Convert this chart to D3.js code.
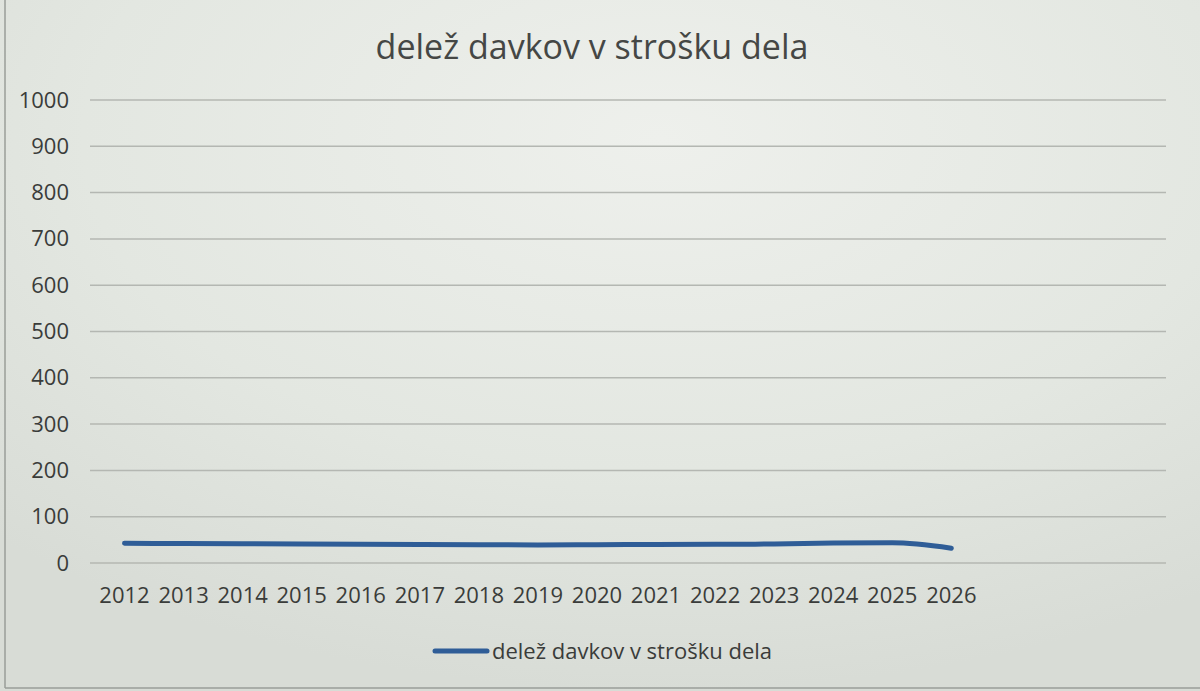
<!DOCTYPE html>
<html lang="sl">
<head>
    <meta charset="UTF-8">
    <title>delež davkov v strošku dela</title>
    <script src="https://d3js.org/d3.v7.min.js"></script>
    <style>
        body { margin: 0; background: #e4e7e2; }
        svg { display: block; font-family: "Open Sans", sans-serif; }
    </style>
</head>
<body>
    <svg width="1200" height="691"></svg>
    <script>
        const years = [2012, 2013, 2014, 2015, 2016, 2017, 2018, 2019, 2020, 2021, 2022, 2023, 2024, 2025, 2026];
        const values = [42.5, 42, 41.5, 41, 40.5, 40, 39.5, 39, 39.5, 40, 40.5, 41, 43, 43.5, 32];
        const yTicks = [0, 100, 200, 300, 400, 500, 600, 700, 800, 900, 1000];
        const blankSlots = ['b1', 'b2', 'b3'];  // empty categories at the end of the axis
        const title = 'delež davkov v strošku dela';

        const svg = d3.select('svg');
        const [width, height] = [+svg.attr('width'), +svg.attr('height')];

        // photo-like background
        const defs = svg.append('defs');
        const grad = defs.append('radialGradient').attr('id', 'bg')
            .attr('cx', '55%').attr('cy', '20%').attr('r', '80%');
        grad.append('stop').attr('offset', '0%').attr('stop-color', '#eef0ec');
        grad.append('stop').attr('offset', '60%').attr('stop-color', '#e3e7e1');
        grad.append('stop').attr('offset', '100%').attr('stop-color', '#d8dcd6');
        svg.append('rect').attr('width', width).attr('height', height).attr('fill', 'url(#bg)');
        svg.append('line').attr('x1', 5).attr('x2', 5).attr('y1', 0).attr('y2', 688)
            .attr('stroke', '#9a9e99').attr('stroke-width', 1.5);
        svg.append('line').attr('x1', 5).attr('x2', width).attr('y1', 688).attr('y2', 688)
            .attr('stroke', '#9a9e99').attr('stroke-width', 1.5);

        const xScale = d3.scaleBand()
            .domain(years.map(String).concat(blankSlots))
            .range([95, 1158]);
        const xc = d => xScale(String(d)) + xScale.bandwidth() / 2;

        const yScale = d3.scaleLinear().domain([0, 1000]).range([563, 100]);

        // gridlines
        svg.append('g')
            .selectAll('line')
            .data(yTicks)
            .join('line')
            .attr('x1', 90).attr('x2', 1166)
            .attr('y1', d => yScale(d)).attr('y2', d => yScale(d))
            .attr('stroke', '#b4b7b2').attr('stroke-width', 1.5);

        // y axis labels
        const yAxis = svg.append('g')
            .attr('transform', 'translate(69,0)')
            .call(d3.axisLeft(yScale).tickValues(yTicks).tickFormat(d3.format('d'))
                .tickSize(0).tickPadding(0));
        yAxis.select('.domain').remove();
        yAxis.selectAll('text').attr('font-size', 22).attr('fill', '#3a3c3a')
            .attr('font-family', '"Open Sans", sans-serif');

        // x axis labels
        const xAxis = svg.append('g')
            .attr('transform', 'translate(0,587)')
            .call(d3.axisBottom(xScale).tickSize(0).tickPadding(0)
                .tickFormat(d => blankSlots.includes(d) ? '' : d));
        xAxis.select('.domain').remove();
        xAxis.selectAll('text').attr('font-size', 22).attr('fill', '#3a3c3a')
            .attr('font-family', '"Open Sans", sans-serif');

        // series line
        const line = d3.line()
            .x((d, i) => xc(years[i]))
            .y(d => yScale(d))
            .curve(d3.curveMonotoneX);
        svg.append('path')
            .attr('d', line(values))
            .attr('fill', 'none')
            .attr('stroke', '#2f5d97')
            .attr('stroke-width', 5)
            .attr('stroke-linecap', 'round');

        // title
        svg.append('text')
            .attr('x', 592).attr('y', 59)
            .attr('text-anchor', 'middle')
            .attr('font-size', 34)
            .attr('fill', '#454745')
            .text(title);

        // legend
        const legend = svg.append('g').attr('transform', 'translate(433,651)');
        legend.append('line').attr('x1', 2).attr('x2', 54)
            .attr('stroke', '#2f5d97').attr('stroke-width', 5).attr('stroke-linecap', 'round');
        legend.append('text').attr('x', 59).attr('y', 8)
            .attr('font-size', 22).attr('fill', '#3a3c3a')
            .text(title);
    </script>
</body>
</html>
